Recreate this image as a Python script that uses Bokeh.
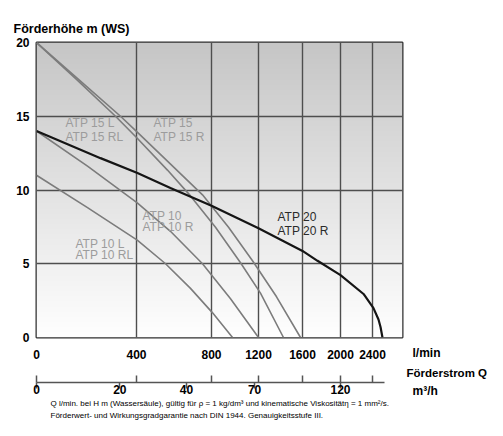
import numpy as np
from bokeh.plotting import figure
from bokeh.layouts import row
from bokeh.core.properties import value
from bokeh.models import LinearAxis, FixedTicker, Label, Range1d, Title
from bokeh.embed import file_html
from bokeh.resources import INLINE

# ---------------- data ----------------
lmin_ticks = [0, 400, 800, 1200, 1600, 2000, 2400]     # Förderstrom l/min
m3h_ticks = [0, 20, 40, 70, 120]                        # Förderstrom m³/h
head_ticks = [0, 5, 10, 15, 20]                         # Förderhöhe m

atp10l_q = [0, 204, 404, 555, 688, 809, 979]
atp10l_h = [11.0, 8.8, 6.6, 5.0, 3.33, 1.67, 0.0]

atp10_q = [0, 204, 404, 581, 752, 962, 1200]
atp10_h = [14.0, 11.62, 9.13, 7.2, 5.0, 2.63, 0.0]

atp15l_q = [0, 160, 316, 404, 565, 688, 834, 1047, 1218, 1427]
atp15l_h = [20.0, 17.5, 15.0, 13.51, 11.35, 9.6, 7.47, 5.07, 3.01, 0.0]

atp15_q = [0, 168, 336, 404, 565, 752, 945, 1149, 1364, 1582]
atp15_h = [20.0, 17.5, 15.0, 13.92, 11.96, 9.67, 7.47, 5.2, 2.76, 0.0]

atp20_q = [0, 256, 405, 581, 800, 1200, 1600, 1758, 2000, 2288, 2413, 2480, 2507, 2533]
atp20_h = [14.0, 12.16, 11.15, 10.14, 8.93, 7.4, 5.87, 5.2, 4.23, 2.95, 1.99, 1.22, 0.71, 0.0]

# --------- non-linear flow scale of the original chart (piecewise) ---------
KNOT_Q = [0, 400, 800, 1200, 1600, 2000, 2400, 2800]
KNOT_POS = [0.0, 100.0, 175.0, 222.0, 266.0, 304.0, 336.0, 366.0]


def warp(q):
    return np.interp(np.asarray(q, dtype=float), KNOT_Q, KNOT_POS)


FONT = "Liberation Sans"
GRAY = "#7c7c7c"
LABEL_GRAY = "#9c9c9c"

p = figure(width=404, height=420,
           x_range=Range1d(0, KNOT_POS[-1]), y_range=Range1d(0, 20),
           output_backend="svg", toolbar_location=None,
           min_border_left=36, min_border_right=2,
           min_border_top=42, min_border_bottom=83,
           background_fill_color="white", border_fill_color="white",
           title="Förderhöhe m (WS)")
p.title.align = "left"
p.title.offset = -23
p.title.standoff = 14
p.title.text_font = FONT
p.title.text_font_style = "bold"
p.title.text_font_size = "12.5px"
p.title.text_color = "black"

# gradient background of the plot area
n = 295
shade = np.linspace(255, 198, n).astype(np.uint8)
img = np.zeros((n, 1), dtype=np.uint32)
v = img.view(dtype=np.uint8).reshape((n, 1, 4))
v[:, 0, 0] = shade
v[:, 0, 1] = shade
v[:, 0, 2] = shade
v[:, 0, 3] = 255
bg = p.image_rgba(image=[img], x=0, y=0, dw=KNOT_POS[-1], dh=20)
bg.level = "image"

# outline & grid
p.outline_line_color = "#2e2e2e"
p.outline_line_width = 2
lmin_pos = [float(x) for x in warp(lmin_ticks)]
xt = FixedTicker(ticks=lmin_pos)
p.xgrid[0].ticker = xt
p.ygrid[0].ticker = FixedTicker(ticks=head_ticks)
for g in (p.xgrid[0], p.ygrid[0]):
    g.grid_line_color = "#4e4e4e"
    g.grid_line_width = 1.4
    g.grid_line_alpha = 1.0

# y axis
ya = p.yaxis[0]
ya.ticker = FixedTicker(ticks=head_ticks)
ya.axis_line_color = None
ya.major_tick_line_color = None
ya.minor_tick_line_color = None
ya.major_tick_out = 0
ya.major_tick_in = 0
ya.major_label_standoff = 7
ya.major_label_text_font = FONT
ya.major_label_text_font_style = "bold"
ya.major_label_text_font_size = "12px"
ya.major_label_text_color = "black"

# x axis (l/min)
xa = p.xaxis[0]
xa.ticker = xt
xa.major_label_overrides = {pos: str(val) for pos, val in zip(lmin_pos, lmin_ticks)}
xa.axis_line_color = None
xa.major_tick_line_color = None
xa.minor_tick_line_color = None
xa.major_tick_out = 0
xa.major_tick_in = 0
xa.major_label_standoff = 12
xa.major_label_text_font = FONT
xa.major_label_text_font_style = "bold"
xa.major_label_text_font_size = "12px"
xa.major_label_text_color = "black"
xa.axis_label = " "
xa.axis_label_text_font_size = "10px"
xa.axis_label_standoff = 7

# second axis (m³/h) with upward ticks at the l/min positions
m3h_pos = [float(x) for x in warp(np.array(m3h_ticks, dtype=float) * 1000.0 / 60.0)]
ax2 = LinearAxis(
    ticker=FixedTicker(ticks=m3h_pos, minor_ticks=lmin_pos),
    major_label_overrides={pos: str(val) for pos, val in zip(m3h_pos, m3h_ticks)},
    bounds=(0, 348),
    axis_line_color="#555555", axis_line_width=1.5,
    major_tick_line_color="#555555", major_tick_line_width=1.5,
    minor_tick_line_color="#555555", minor_tick_line_width=1.5,
    major_tick_in=0, major_tick_out=6,
    minor_tick_in=7, minor_tick_out=0,
    major_label_standoff=-4,
    major_label_text_font=FONT, major_label_text_font_style="bold",
    major_label_text_font_size="12px", major_label_text_color="black",
)
p.add_layout(ax2, "below")

# footnote lines under the axes
footnotes = [
    "Q l/min. bei H m (Wassersäule), gültig für ρ = 1 kg/dm³ und kinematische Viskositätη = 1 mm²/s.",
    "Förderwert- und Wirkungsgradgarantie nach DIN 1944. Genauigkeitsstufe III.",
]
for t in footnotes:
    p.add_layout(Title(text=t, align="left", offset=14, standoff=1,
                       text_font=FONT, text_font_size="8px",
                       text_font_style="normal", text_color="black"), "below")

# curves
p.line(warp(atp10l_q), atp10l_h, line_color=GRAY, line_width=1.6)
p.line(warp(atp10_q), atp10_h, line_color=GRAY, line_width=1.6)
p.line(warp(atp15l_q), atp15l_h, line_color=GRAY, line_width=1.6)
p.line(warp(atp15_q), atp15_h, line_color=GRAY, line_width=1.6)
p.line(warp(atp20_q), atp20_h, line_color="#151515", line_width=2.2)

# curve labels
curve_texts = [
    ("ATP 15 L", 29, 14.51, LABEL_GRAY), ("ATP 15 RL", 29, 13.56, LABEL_GRAY),
    ("ATP 15", 117, 14.51, LABEL_GRAY), ("ATP 15 R", 117, 13.56, LABEL_GRAY),
    ("ATP 10", 106, 8.27, LABEL_GRAY), ("ATP 10 R", 106, 7.46, LABEL_GRAY),
    ("ATP 10 L", 39, 6.37, LABEL_GRAY), ("ATP 10 RL", 39, 5.56, LABEL_GRAY),
    ("ATP 20", 241, 8.14, "#2a2a2a"), ("ATP 20 R", 241, 7.25, "#2a2a2a"),
]
for t, x, y, c in curve_texts:
    p.add_layout(Label(x=x, y=y, text=t, text_font=FONT, text_font_size="12px",
                       text_color=c, text_baseline="alphabetic", text_align="left"))

# right-hand unit captions (separate narrow panel, pixel coordinates from the top)
p2 = figure(width=83, height=420, x_range=Range1d(0, 83), y_range=Range1d(420, 0),
            output_backend="svg", toolbar_location=None,
            x_axis_location=None, y_axis_location=None,
            min_border_left=0, min_border_right=0, min_border_top=0, min_border_bottom=0,
            outline_line_color=None, background_fill_color="white",
            border_fill_color="white")
if hasattr(p2, "frame_align"):
    p2.frame_align = False
if hasattr(p, "frame_align"):
    p.frame_align = False
p2.xgrid.visible = False
p2.ygrid.visible = False
unit_texts = [("l/min", 8, 352, "12px"), ("Förderstrom Q", 2, 372, "11.5px"), ("m³/h", 8, 390, "12px")]
for t, x, y, fs in unit_texts:
    p2.text(x=[x], y=[y], text=[t], text_font=value(FONT), text_font_size=fs,
            text_font_style="bold", text_color="black",
            text_baseline="middle", text_align="left")

layout = row(p, p2)
open("out.html", "w").write(file_html(layout, INLINE))
